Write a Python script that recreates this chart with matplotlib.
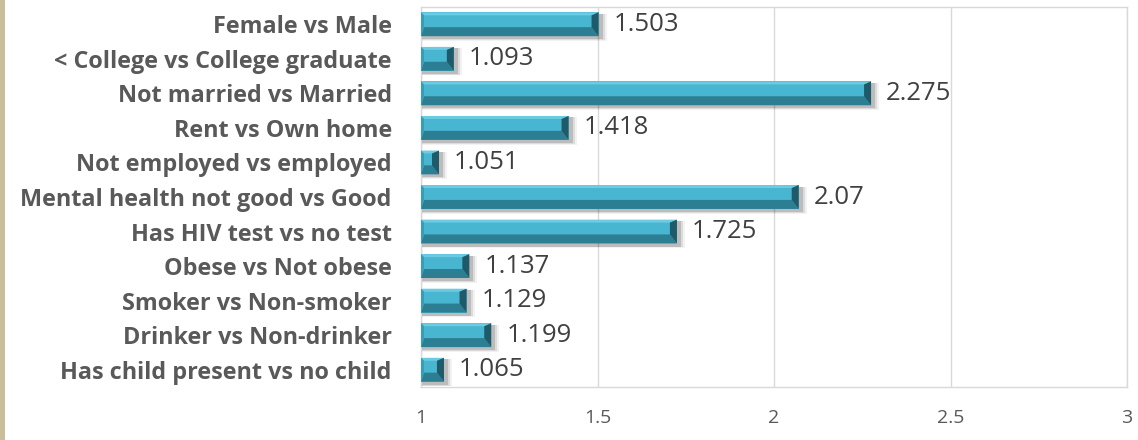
import matplotlib
matplotlib.use('Agg')
from matplotlib import pyplot as plt
from matplotlib.patches import Polygon, Rectangle

categories = ['Female vs Male', '< College vs College graduate', 'Not married vs Married',
              'Rent vs Own home', 'Not employed vs employed', 'Mental health not good vs Good',
              'Has HIV test vs no test', 'Obese vs Not obese', 'Smoker vs Non-smoker',
              'Drinker vs Non-drinker', 'Has child present vs no child']
odds_ratios = [1.503, 1.093, 2.275, 1.418, 1.051, 2.07, 1.725, 1.137, 1.129, 1.199, 1.065]
value_labels = ['1.503', '1.093', '2.275', '1.418', '1.051', '2.07', '1.725', '1.137', '1.129', '1.199', '1.065']
xticks = [1, 1.5, 2, 2.5, 3]
xtick_labels = ['1', '1.5', '2', '2.5', '3']

plt.rcParams['font.family'] = ['Open Sans', 'DejaVu Sans']

W, H, DPI = 1138, 440, 100
fig = plt.figure(figsize=(W / DPI, H / DPI), dpi=DPI)
ax = fig.add_axes([421 / W, 53 / H, 706 / W, 380 / H])
x0, x1 = 1, 3
n = len(categories)
ax.set_xlim(x0, x1)
ax.set_ylim(n - 0.5, -0.5)

# pixel -> data unit helpers for the bevel sizes
px_x = (x1 - x0) / 706
px_y = n / 380

face = '#48B6D1'
top_c = '#6ACBE2'
bot_c = '#2C7E92'
right_c = '#1E5A69'
left_c = '#3A9DB6'

h = 0.69
for i, v in enumerate(odds_ratios):
    top = i - h / 2
    bot = i + h / 2
    # soft drop shadow
    for k, a in zip([8, 6, 4], [0.05, 0.09, 0.14]):
        ax.add_patch(Rectangle((x0, top + 1.5 * px_y), v - x0 + k * px_x, h + k * px_y * 0.4,
                               facecolor='black', alpha=a, edgecolor='none', zorder=2))
    ax.add_patch(Rectangle((x0, top), v - x0, h, facecolor=face, edgecolor='none', zorder=3))
    bt, bb, br, bl = 3 * px_y, 9 * px_y, 7 * px_x, 3 * px_x
    br = min(br, (v - x0) / 2)
    bl = min(bl, (v - x0) / 2)
    ax.add_patch(Polygon([(x0, top), (v, top), (v - br, top + bt), (x0 + bl, top + bt)],
                         closed=True, facecolor=top_c, edgecolor='none', zorder=4))
    ax.add_patch(Polygon([(x0, bot), (v, bot), (v - br, bot - bb), (x0 + bl, bot - bb)],
                         closed=True, facecolor=bot_c, edgecolor='none', zorder=4))
    ax.add_patch(Polygon([(v, top), (v, bot), (v - br, bot - bb), (v - br, top + bt)],
                         closed=True, facecolor=right_c, edgecolor='none', zorder=4))
    ax.add_patch(Polygon([(x0, top), (x0, bot), (x0 + bl, bot - bb), (x0 + bl, top + bt)],
                         closed=True, facecolor=left_c, edgecolor='none', zorder=4))
    ax.text(v + 15 * px_x, i, value_labels[i], va='center', ha='left',
            fontsize=18.5, color='#404040', zorder=5)

ax.set_xticks(xticks)
ax.set_xticklabels(xtick_labels, fontsize=14, color='#595959')
ax.set_yticks(range(n))
ax.set_yticklabels(categories, fontsize=16.8, fontweight='bold', color='#595959')
ax.tick_params(axis='both', length=0)
ax.tick_params(axis='x', pad=16)
ax.tick_params(axis='y', pad=21)
ax.grid(axis='x', color='#D9D9D9', linewidth=1, zorder=0)
ax.set_axisbelow(True)
for s in ax.spines.values():
    s.set_color('#D9D9D9')
    s.set_linewidth(1)

# tan strip along the left edge
fig.patches.append(Rectangle((0, 0), 5 / W, 1, transform=fig.transFigure,
                             facecolor='#C9BE9A', edgecolor='none'))

fig.savefig('out.png', dpi=DPI)
